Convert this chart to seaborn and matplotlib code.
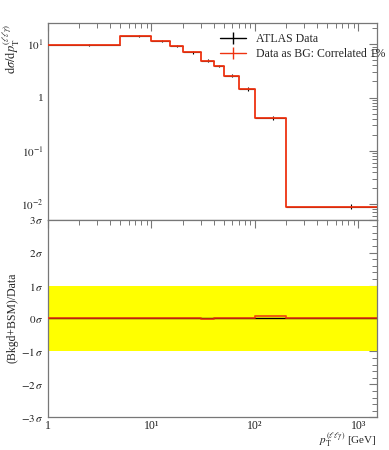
import numpy as np
import pandas as pd
import matplotlib
matplotlib.use("Agg")
import matplotlib.pyplot as plt
from matplotlib.lines import Line2D
from matplotlib.ticker import LogLocator, FixedLocator, NullFormatter, FuncFormatter
import seaborn as sns

# ---- data ----
bin_edges = [0, 5, 10, 15, 20, 30, 40, 50, 70, 100, 200, 1500]
atlas_values = [9.6, 14.3, 11.5, 9.2, 7.1, 4.9, 3.9, 2.58, 1.45, 0.42, 0.0090]
atlas_rel_err = [0.05, 0.05, 0.05, 0.05, 0.06, 0.06, 0.06, 0.06, 0.07, 0.08, 0.10]
bg_values = [9.6, 14.3, 11.5, 9.2, 7.1, 4.9, 3.9, 2.58, 1.45, 0.42, 0.0090]
ratio_sigma = [0.0, 0.0, 0.0, 0.0, 0.0, -0.01, 0.0, 0.015, 0.015, 0.085, 0.0]
legend_labels = ["ATLAS Data", "Data as BG: Correlated 1%"]
ratio_ticks = [-3, -2, -1, 0, 1, 2, 3]
x_tick_labels = {0: "1", 1: "10¹", 2: "10²", 3: "10³"}

sns.set_theme(style="white")
plt.rcParams["font.family"] = ["Liberation Serif", "DejaVu Serif"]
plt.rcParams["mathtext.fontset"] = "stix"

RED = "#EE3311"
FRAME = "#777777"

edges = np.array(bin_edges, dtype=float)
centers = 0.5 * (edges[:-1] + edges[1:])
halfw = 0.5 * (edges[1:] - edges[:-1])

def step_df(vals):
    return pd.DataFrame({"x": edges, "y": list(vals) + [vals[-1]]})

fig = plt.figure(figsize=(3.89, 4.5), dpi=100)
ax1 = fig.add_axes([0.1234, 0.5118, 0.845, 0.4378])
ax2 = fig.add_axes([0.1234, 0.0727, 0.845, 0.4391])

# ---- top panel ----
av = np.array(atlas_values)
ax1.errorbar(centers, av, xerr=halfw, yerr=av * np.array(atlas_rel_err),
             fmt="none", ecolor="black", elinewidth=0.8, capsize=0, zorder=2)
sns.lineplot(data=step_df(bg_values), x="x", y="y", ax=ax1, drawstyle="steps-post",
             color=RED, lw=1.3, estimator=None, sort=False, zorder=3)
ax1.set_xscale("log")
ax1.set_yscale("log")
ax1.set_xlim(1, 1500)
ax1.set_ylim(0.0051, 25.4)
ax1.set_xlabel("")
ax1.set_ylabel("")
ax1.xaxis.set_major_formatter(NullFormatter())
ax1.xaxis.set_minor_formatter(NullFormatter())

def logfmt(v, pos):
    e = int(round(np.log10(v)))
    if e == 0:
        return "1"
    return r"$10^{%d}$" % e
ax1.yaxis.set_major_locator(LogLocator(base=10, numticks=10))
ax1.yaxis.set_major_formatter(FuncFormatter(logfmt))
ax1.yaxis.set_minor_locator(LogLocator(base=10, subs=np.arange(2, 10), numticks=20))
ax1.yaxis.set_minor_formatter(NullFormatter())

handles = [Line2D([0], [0], color="black", lw=1, marker="|", markersize=8),
           Line2D([0], [0], color=RED, lw=1, marker="|", markersize=8)]
ax1.legend(handles, legend_labels, loc="upper left", bbox_to_anchor=(0.51, 0.97),
           frameon=False, fontsize=8.5, handlelength=2.2, handletextpad=0.8,
           labelspacing=0.2, borderaxespad=0)

# ---- ratio panel ----
ax2.fill_between([1, 1500], -1, 1, color="#ffff00", lw=0, zorder=1)
sns.lineplot(data=step_df([0.0] * len(atlas_values)), x="x", y="y", ax=ax2,
             drawstyle="steps-post", color="black", lw=1.0, estimator=None, sort=False, zorder=2)
sns.lineplot(data=step_df(ratio_sigma), x="x", y="y", ax=ax2, drawstyle="steps-post",
             color=RED, lw=1.3, alpha=0.85, estimator=None, sort=False, zorder=3)
ax2.set_xscale("log")
ax2.set_xlim(1, 1500)
ax2.set_ylim(-3, 3)
ax2.yaxis.set_major_locator(FixedLocator(ratio_ticks))
ax2.yaxis.set_minor_locator(FixedLocator(np.arange(-3, 3.01, 0.2)))
ax2.yaxis.set_major_formatter(FuncFormatter(lambda v, p: r"$%d\,\sigma$" % int(round(v))))
ax2.xaxis.set_major_locator(LogLocator(base=10, numticks=10))
ax2.xaxis.set_major_formatter(
    FuncFormatter(lambda v, p: x_tick_labels.get(int(round(np.log10(v))), "")))
ax2.xaxis.set_minor_locator(LogLocator(base=10, subs=np.arange(2, 10), numticks=20))
ax2.xaxis.set_minor_formatter(NullFormatter())
ax2.set_ylabel("")
ax2.set_xlabel("")

# axis titles placed like the reference
fig.text(12 / 389, 1 - 23 / 450, r"$\mathrm{d}\sigma/\mathrm{d}p_{\mathrm{T}}^{(\ell\ell\gamma)}$",
         rotation=90, ha="center", va="top", fontsize=9)
fig.text(13 / 389, 1 - 318 / 450, "(Bkgd+BSM)/Data", rotation=90, ha="center", va="center",
         fontsize=8.5)
fig.text(377 / 389, 1 - 449 / 450, r"$p_{\mathrm{T}}^{(\ell\ell\gamma)}$ [GeV]", ha="right",
         va="bottom", fontsize=8)

for ax in (ax1, ax2):
    for s in ax.spines.values():
        s.set_color(FRAME)
        s.set_linewidth(0.9)
    ax.tick_params(which="both", direction="in", top=True, right=True,
                   color=FRAME, labelsize=8, labelcolor="#222222")
    ax.tick_params(which="major", length=6, width=0.8, pad=3)
    ax.tick_params(which="minor", length=3.5, width=0.7)
    ax.grid(False)
ax2.tick_params(axis="x", which="major", pad=2, labelsize=8.5)

fig.savefig("out.png", dpi=100)
